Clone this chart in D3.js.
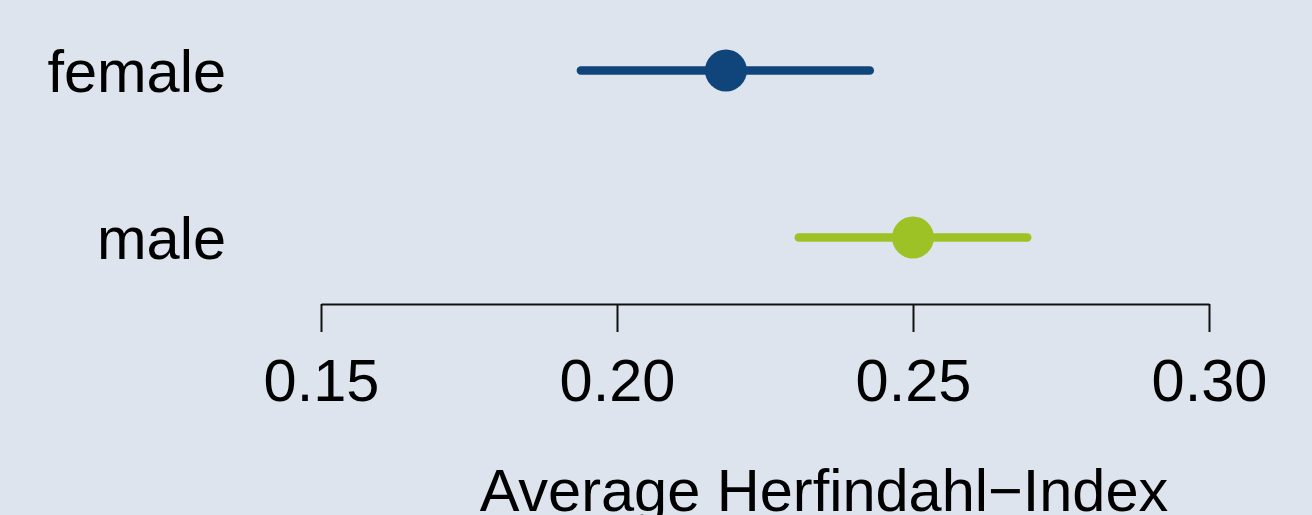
<!DOCTYPE html>
<html>
<head>
<meta charset="utf-8">
<script src="https://cdn.jsdelivr.net/npm/d3@7"></script>
<style>
  html, body { margin: 0; padding: 0; background: #dee4ee; }
  svg { display: block; }
  text { font-family: "Liberation Sans", Arial, sans-serif; fill: #000; }
</style>
</head>
<body>
<svg id="chart"></svg>
<script>
// data
const groups = ['female', 'male'];
const means = [0.2184, 0.2500];
const lower = [0.1939, 0.2307];
const upper = [0.2427, 0.2693];
const colors = ['#10457b', '#9dc225'];
const tickValues = [0.15, 0.20, 0.25, 0.30];
const xTitle = 'Average Herfindahl\u2212Index';

const width = 1312;
const height = 515;

const svg = d3.select('#chart')
    .attr('width', width)
    .attr('height', height);

svg.append('rect')
    .attr('width', width)
    .attr('height', height)
    .attr('fill', '#dee4ee');

const x = d3.scaleLinear()
    .domain([0.15, 0.30])
    .range([321, 1209]);

const y = d3.scalePoint()
    .domain(groups)
    .range([70.5, 237.5]);

const rows = groups.map((g, i) => ({g: g, m: means[i], lo: lower[i], hi: upper[i], c: colors[i]}));

// intervals
svg.selectAll('line.ci')
    .data(rows)
    .enter()
    .append('line')
    .attr('class', 'ci')
    .attr('x1', d => x(d.lo))
    .attr('x2', d => x(d.hi))
    .attr('y1', d => y(d.g))
    .attr('y2', d => y(d.g))
    .attr('stroke', d => d.c)
    .attr('stroke-width', 8.5)
    .attr('stroke-linecap', 'round');

// points
svg.selectAll('circle')
    .data(rows)
    .enter()
    .append('circle')
    .attr('cx', d => x(d.m))
    .attr('cy', d => y(d.g))
    .attr('r', 21)
    .attr('fill', d => d.c);

// group labels
svg.selectAll('text.lab')
    .data(groups)
    .enter()
    .append('text')
    .attr('class', 'lab')
    .attr('x', 226)
    .attr('y', d => y(d) + 21)
    .attr('text-anchor', 'end')
    .style('font-size', '59.5px')
    .text(d => d);

// x axis
const xAxis = d3.axisBottom(x)
    .tickValues(tickValues)
    .tickSize(28)
    .tickSizeOuter(0)
    .tickFormat(d3.format('.2f'));

const gx = svg.append('g')
    .attr('transform', 'translate(0,304)')
    .call(xAxis);

gx.select('.domain')
    .attr('stroke', '#111')
    .attr('stroke-width', 2);
gx.selectAll('.tick line')
    .attr('stroke', '#111')
    .attr('stroke-width', 2);
gx.selectAll('.tick text')
    .attr('y', 97)
    .attr('dy', 0)
    .attr('fill', '#000')
    .style('font-size', '59.5px')
    .style('font-family', '"Liberation Sans", Arial, sans-serif');

// axis title (cut at the bottom edge, as in the original)
svg.append('text')
    .attr('x', 824)
    .attr('y', 511)
    .attr('text-anchor', 'middle')
    .style('font-size', '59.5px')
    .text(xTitle);
</script>
</body>
</html>
